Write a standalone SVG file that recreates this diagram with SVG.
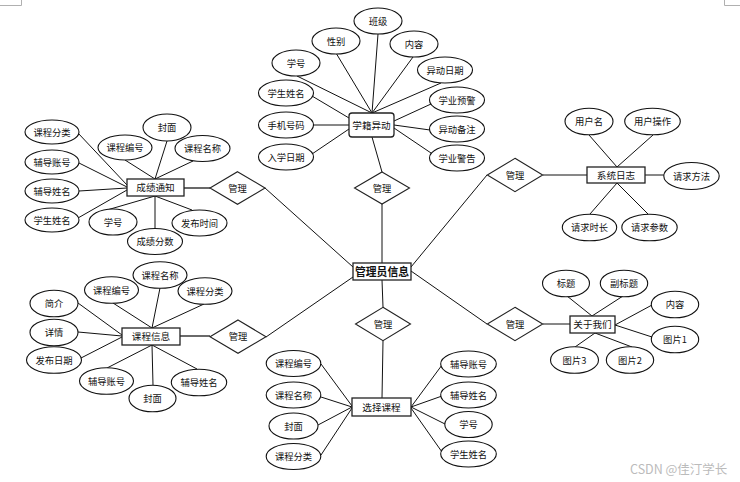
<svg xmlns="http://www.w3.org/2000/svg" width="740" height="482" viewBox="0 0 740 482">
<style>
.c line{stroke:#111;stroke-width:1}
.c .w{stroke-width:1.6;stroke:#444}
ellipse{fill:#fff;stroke:#111;stroke-width:1.1}
rect{fill:#fff;stroke:#222;stroke-width:1.3}
polygon{fill:#fff;stroke:#222;stroke-width:1.1}
text{font-family:"Noto Sans CJK SC","Noto Sans",sans-serif;font-size:9.3px;fill:#111;text-anchor:middle}
.b{font-size:9.6px}
.m{font-size:10.8px;font-weight:bold}
.wm{font-size:12.5px;fill:#bbb;text-anchor:start}
</style>
<rect width="740" height="482" style="fill:#fff;stroke:none"/>
<polyline points="0,5.5 21.5,5.5 21.5,0" style="fill:none;stroke:#b0b0b0;stroke-width:1"/>
<polyline points="724.5,0 724.5,5.5 740,5.5" style="fill:none;stroke:#b0b0b0;stroke-width:1"/>
<g id="connectors" class="c">
<!-- 学籍异动 -->
<line x1="378" y1="34" x2="372" y2="113"/>
<line x1="336" y1="53" x2="372" y2="113"/>
<line x1="413" y1="57" x2="372" y2="113"/>
<line x1="297" y1="76" x2="372" y2="113"/>
<line x1="441" y1="83" x2="372" y2="113"/>
<line x1="312" y1="96" x2="349" y2="118"/>
<line x1="313" y1="125" x2="349" y2="125"/>
<line x1="312" y1="154" x2="349" y2="129"/>
<line x1="431" y1="104" x2="394" y2="121"/>
<line x1="430" y1="130" x2="394" y2="125"/>
<line x1="431" y1="153" x2="394" y2="128"/>
<line x1="372" y1="137" x2="382" y2="172"/>
<line x1="382" y1="204" x2="382" y2="263"/>
<!-- 成绩通知 -->
<line x1="78" y1="133" x2="127" y2="185"/>
<line x1="79" y1="163" x2="127" y2="187"/>
<line x1="79" y1="191" x2="127" y2="188"/>
<line x1="78" y1="218" x2="127" y2="190"/>
<line x1="125" y1="160" x2="155" y2="179"/>
<line x1="167" y1="141" x2="155" y2="179"/>
<line x1="193" y1="161" x2="155" y2="179"/>
<line x1="107" y1="210" x2="155" y2="196"/>
<line x1="155" y1="229" x2="155" y2="196"/>
<line x1="192" y1="210" x2="155" y2="196"/>
<line class="w" x1="184" y1="188" x2="210" y2="188"/>
<line x1="265" y1="188" x2="353" y2="267"/>
<!-- 系统日志 -->
<line x1="589" y1="135" x2="617" y2="167"/>
<line x1="653" y1="135" x2="617" y2="167"/>
<line x1="645" y1="175" x2="664" y2="175"/>
<line x1="617" y1="183" x2="590" y2="214"/>
<line x1="617" y1="183" x2="648" y2="214"/>
<line x1="543" y1="175" x2="587" y2="175"/>
<line x1="487" y1="175" x2="411" y2="267"/>
<!-- 课程信息 -->
<line x1="113" y1="303" x2="152" y2="328"/>
<line x1="160" y1="288" x2="152" y2="328"/>
<line x1="204" y1="304" x2="152" y2="328"/>
<line x1="78" y1="303" x2="122" y2="335"/>
<line x1="78" y1="332" x2="122" y2="336"/>
<line x1="81" y1="358" x2="122" y2="337"/>
<line x1="107" y1="368" x2="152" y2="345"/>
<line x1="153" y1="385" x2="152" y2="345"/>
<line x1="197" y1="369" x2="152" y2="345"/>
<line class="w" x1="180" y1="336" x2="210" y2="336"/>
<line x1="266" y1="337" x2="353" y2="277"/>
<!-- 关于我们 -->
<line x1="567" y1="296" x2="592" y2="316"/>
<line x1="623" y1="296" x2="592" y2="316"/>
<line x1="652" y1="305" x2="615" y2="325"/>
<line x1="652" y1="337" x2="615" y2="325"/>
<line x1="575" y1="347" x2="595" y2="333"/>
<line x1="632" y1="347" x2="595" y2="333"/>
<line x1="543" y1="324" x2="570" y2="324"/>
<line x1="487" y1="324" x2="411" y2="271"/>
<!-- 选择课程 -->
<line x1="382" y1="280" x2="383" y2="307"/>
<line x1="383" y1="341" x2="382" y2="398"/>
<line x1="321" y1="364" x2="352" y2="406"/>
<line x1="321" y1="397" x2="352" y2="407"/>
<line x1="318" y1="425" x2="352" y2="407"/>
<line x1="321" y1="455" x2="352" y2="408"/>
<line x1="442" y1="365" x2="411" y2="407"/>
<line x1="442" y1="396" x2="411" y2="407"/>
<line x1="445" y1="424" x2="411" y2="407"/>
<line x1="442" y1="452" x2="411" y2="408"/>
</g>

<!-- central -->
<g id="n-admin"><rect x="353" y="263" width="58" height="17"/><text class="m" x="382" y="275.5">管理员信息</text></g>

<!-- 学籍异动 -->
<g id="n-xjyd"><rect x="349" y="113" width="45" height="24" rx="3"/><text class="b" x="371.5" y="128.5">学籍异动</text></g>
<g id="d-top"><polygon points="382,172 409.5,188 382,204 354.5,188"/><text x="382" y="191.5">管理</text></g>
<g id="a-bj"><ellipse cx="378" cy="21" rx="24" ry="13"/><text x="378" y="24.5">班级</text></g>
<g id="a-xb"><ellipse cx="336" cy="41" rx="24" ry="13"/><text x="336" y="44.5">性别</text></g>
<g id="a-nr1"><ellipse cx="414" cy="44" rx="24" ry="13"/><text x="414" y="47.5">内容</text></g>
<g id="a-xh1"><ellipse cx="296" cy="63" rx="24" ry="13"/><text x="296" y="66.5">学号</text></g>
<g id="a-ydrq"><ellipse cx="445" cy="70" rx="27.5" ry="13"/><text x="445" y="73.5">异动日期</text></g>
<g id="a-xsxm1"><ellipse cx="286" cy="93" rx="27.5" ry="13"/><text x="286" y="96.5">学生姓名</text></g>
<g id="a-xyyj"><ellipse cx="457" cy="100" rx="27.5" ry="13"/><text x="457" y="103.5">学业预警</text></g>
<g id="a-sjhm"><ellipse cx="286" cy="125" rx="27.5" ry="13"/><text x="286" y="128.5">手机号码</text></g>
<g id="a-ydbz"><ellipse cx="457" cy="129" rx="27.5" ry="13"/><text x="457" y="132.5">异动备注</text></g>
<g id="a-rxrq"><ellipse cx="286" cy="157" rx="27.5" ry="13"/><text x="286" y="160.5">入学日期</text></g>
<g id="a-xyjg"><ellipse cx="457" cy="158" rx="27.5" ry="13"/><text x="457" y="161.5">学业警告</text></g>

<!-- 成绩通知 -->
<g id="n-cjtz"><rect x="127" y="179" width="57" height="17"/><text class="b" x="155.5" y="191">成绩通知</text></g>
<g id="d-left1"><polygon points="237.5,171.7 265,188 237.5,204.3 210,188"/><text x="237.5" y="191.5">管理</text></g>
<g id="a-kcfl1"><ellipse cx="52" cy="132" rx="27" ry="12"/><text x="52" y="135.5">课程分类</text></g>
<g id="a-fdzh1"><ellipse cx="52" cy="162" rx="27" ry="12"/><text x="52" y="165.5">辅导账号</text></g>
<g id="a-fdxm1"><ellipse cx="52" cy="191" rx="27" ry="12"/><text x="52" y="194.5">辅导姓名</text></g>
<g id="a-xsxm2"><ellipse cx="52" cy="220" rx="27" ry="12"/><text x="52" y="223.5">学生姓名</text></g>
<g id="a-kcbh1"><ellipse cx="125" cy="147.5" rx="27" ry="12.5"/><text x="125" y="151">课程编号</text></g>
<g id="a-fm1"><ellipse cx="167" cy="127.5" rx="24" ry="13.5"/><text x="167" y="131">封面</text></g>
<g id="a-kcmc1"><ellipse cx="202.5" cy="148.5" rx="27.5" ry="13"/><text x="202.5" y="152">课程名称</text></g>
<g id="a-xh2"><ellipse cx="113" cy="222" rx="24" ry="13"/><text x="113" y="225.5">学号</text></g>
<g id="a-cjfs"><ellipse cx="155" cy="241.5" rx="27.5" ry="13"/><text x="155" y="245">成绩分数</text></g>
<g id="a-fbsj"><ellipse cx="199.5" cy="223" rx="27.5" ry="13"/><text x="199.5" y="226.5">发布时间</text></g>

<!-- 系统日志 -->
<g id="n-xtrz"><rect x="587" y="167" width="58" height="16"/><text class="b" x="616" y="178.5">系统日志</text></g>
<g id="d-right1"><polygon points="515,158.3 542.7,175 515,191.7 487.3,175"/><text x="515" y="178.5">管理</text></g>
<g id="a-yhm"><ellipse cx="589" cy="121.5" rx="24" ry="13.3"/><text x="589" y="125">用户名</text></g>
<g id="a-yhcz"><ellipse cx="652.5" cy="121.5" rx="27.8" ry="13.3"/><text x="652.5" y="125">用户操作</text></g>
<g id="a-qqff"><ellipse cx="691.5" cy="176" rx="27.7" ry="13.5"/><text x="691.5" y="179.5">请求方法</text></g>
<g id="a-qqsc"><ellipse cx="589.5" cy="227.5" rx="27.2" ry="13.3"/><text x="589.5" y="231">请求时长</text></g>
<g id="a-qqcs"><ellipse cx="649.5" cy="227.5" rx="27.7" ry="13.3"/><text x="649.5" y="231">请求参数</text></g>

<!-- 课程信息 -->
<g id="n-kcxx"><rect x="122" y="328" width="58" height="17"/><text class="b" x="151" y="340">课程信息</text></g>
<g id="d-left2"><polygon points="238,320 266,336.7 238,353.3 210,336.7"/><text x="238" y="340">管理</text></g>
<g id="a-kcmc2"><ellipse cx="160" cy="275" rx="27" ry="13.3"/><text x="160" y="278.5">课程名称</text></g>
<g id="a-kcbh2"><ellipse cx="111.5" cy="290" rx="27" ry="13.3"/><text x="111.5" y="293.5">课程编号</text></g>
<g id="a-kcfl2"><ellipse cx="205" cy="291" rx="27" ry="13.3"/><text x="205" y="294.5">课程分类</text></g>
<g id="a-jj"><ellipse cx="54" cy="303.5" rx="24" ry="13.3"/><text x="54" y="307">简介</text></g>
<g id="a-xq"><ellipse cx="54" cy="332.5" rx="24" ry="13.3"/><text x="54" y="336">详情</text></g>
<g id="a-fbrq"><ellipse cx="54" cy="360" rx="27.5" ry="13.3"/><text x="54" y="363.5">发布日期</text></g>
<g id="a-fdzh2"><ellipse cx="106.5" cy="381" rx="27" ry="13.3"/><text x="106.5" y="384.5">辅导账号</text></g>
<g id="a-fm2"><ellipse cx="152.5" cy="398.5" rx="23.5" ry="13.3"/><text x="152.5" y="402">封面</text></g>
<g id="a-fdxm2"><ellipse cx="199" cy="382.5" rx="27.7" ry="13.3"/><text x="199" y="386">辅导姓名</text></g>

<!-- 关于我们 -->
<g id="n-gywm"><rect x="570" y="316" width="45" height="17"/><text class="b" x="592.5" y="328">关于我们</text></g>
<g id="d-right2"><polygon points="515,307.3 542.7,324 515,340.7 487.3,324"/><text x="515" y="327.5">管理</text></g>
<g id="a-bt"><ellipse cx="566" cy="283.5" rx="23.5" ry="13.3"/><text x="566" y="287">标题</text></g>
<g id="a-fbt"><ellipse cx="624" cy="283.5" rx="23.7" ry="13.3"/><text x="624" y="287">副标题</text></g>
<g id="a-nr2"><ellipse cx="675" cy="304.5" rx="23.7" ry="13.3"/><text x="675" y="308">内容</text></g>
<g id="a-tp1"><ellipse cx="675" cy="339.5" rx="23.7" ry="13.3"/><text x="675" y="343">图片1</text></g>
<g id="a-tp3"><ellipse cx="574.5" cy="360" rx="24" ry="13.3"/><text x="574.5" y="363.5">图片3</text></g>
<g id="a-tp2"><ellipse cx="630" cy="360" rx="23.7" ry="13.3"/><text x="630" y="363.5">图片2</text></g>

<!-- 选择课程 -->
<g id="n-xzkc"><rect x="352" y="398" width="59" height="18"/><text class="b" x="381.5" y="410.5">选择课程</text></g>
<g id="d-bottom"><polygon points="383,307.3 410.5,324 383,340.7 355.5,324"/><text x="383" y="327.5">管理</text></g>
<g id="a-kcbh3"><ellipse cx="293.5" cy="363.5" rx="27.3" ry="13"/><text x="293.5" y="367">课程编号</text></g>
<g id="a-kcmc3"><ellipse cx="293.5" cy="395" rx="27.3" ry="13"/><text x="293.5" y="398.5">课程名称</text></g>
<g id="a-fm3"><ellipse cx="293.5" cy="426" rx="24.5" ry="13"/><text x="293.5" y="429.5">封面</text></g>
<g id="a-kcfl3"><ellipse cx="293.5" cy="456.5" rx="27.3" ry="13"/><text x="293.5" y="460">课程分类</text></g>
<g id="a-fdzh3"><ellipse cx="468.5" cy="364" rx="27.8" ry="13"/><text x="468.5" y="367.5">辅导账号</text></g>
<g id="a-fdxm3"><ellipse cx="468.5" cy="395" rx="27.8" ry="13"/><text x="468.5" y="398.5">辅导姓名</text></g>
<g id="a-xh3"><ellipse cx="468.5" cy="424.5" rx="23.7" ry="13"/><text x="468.5" y="428">学号</text></g>
<g id="a-xsxm3"><ellipse cx="468.5" cy="454" rx="27.8" ry="13"/><text x="468.5" y="457.5">学生姓名</text></g>

<text class="wm" x="630" y="474">CSDN @佳汀学长</text>
</svg>
